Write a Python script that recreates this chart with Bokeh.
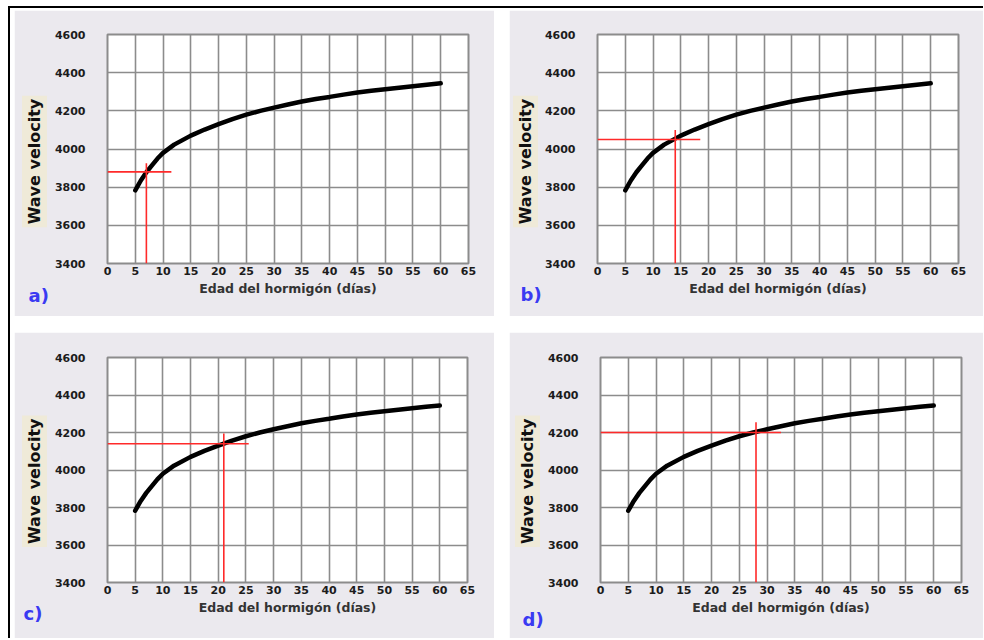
import math
from bokeh.plotting import figure
from bokeh.models import Range1d, Label
from bokeh.layouts import row, column
from bokeh.embed import file_html
from bokeh.resources import INLINE

# ---- data ----
age_days = [5, 6, 7, 8, 9, 10, 12, 15, 17.5, 20, 22.5, 25, 27.5, 30, 32.5, 35,
            37.5, 40, 42.5, 45, 47.5, 50, 52.5, 55, 57.5, 60]
velocity = [3783, 3835, 3878, 3914, 3950, 3980, 4023, 4070, 4102, 4130, 4157,
            4180, 4200, 4217, 4233, 4249, 4262, 4273, 4285, 4296, 4305, 4313,
            4321, 4329, 4337, 4344]
panel_letters = ["a)", "b)", "c)", "d)"]
read_age = [7, 14, 21, 28]
read_velocity = [3880, 4050, 4140, 4200]
hline_end = [11.5, 18.5, 25.5, 32.5]
vline_top = [3925, 4100, 4195, 4255]
x_ticks = list(range(0, 70, 5))
y_ticks = list(range(3400, 4800, 200))
x_label = "Edad del hormigón (días)"
y_label = "Wave velocity"

X0, X1 = 0, 65
Y0, Y1 = 3400, 4600

# panel geometry (px): width, height, border left, right, top, bottom,
# letter x, letter y, y-title centre x, y-title centre y (from panel top-left)
geom = [
    (480, 306, 93, 26, 24, 53, 14, 285, 20, 151),
    (474, 306, 88, 25, 24, 53, 11, 284, 16, 151),
    (480, 306, 93, 27, 25, 52, 9, 286, 20, 151),
    (474, 306, 91, 22, 21, 56, 13, 288, 18, 147),
]

FONT = "DejaVu Sans"
PANEL_BG = "#ebe9ee"
GRID = "#8c8c8c"
HAS_PADDING = "padding" in Label.properties()


def make_panel(i):
    w, h, bl, br, bt, bb, lx, ly, yx, yy = geom[i]
    p = figure(width=w, height=h, x_range=Range1d(X0, X1), y_range=Range1d(Y0, Y1),
               output_backend="svg", toolbar_location=None,
               min_border_left=bl, min_border_right=br, min_border_top=bt,
               min_border_bottom=bb)
    p.background_fill_color = "white"
    p.border_fill_color = PANEL_BG
    p.outline_line_color = GRID
    p.outline_line_width = 2

    p.xaxis.ticker = x_ticks
    p.yaxis.ticker = y_ticks
    p.xgrid.ticker = x_ticks
    p.ygrid.ticker = y_ticks
    p.grid.grid_line_color = GRID
    p.grid.grid_line_width = 1.6

    for ax in (p.xaxis[0], p.yaxis[0]):
        ax.axis_line_color = None
        ax.major_tick_line_color = None
        ax.minor_tick_line_color = None
        ax.major_tick_out = 0
        ax.major_tick_in = 0
        ax.major_label_text_font = FONT
        ax.major_label_text_font_style = "bold"
        ax.major_label_text_font_size = "11px"
        ax.major_label_text_color = "#1c1c1c"
        ax.axis_label_text_font = FONT
        ax.axis_label_text_font_style = "bold"

    xa = p.xaxis[0]
    xa.major_label_standoff = 3
    xa.axis_label = x_label
    xa.axis_label_text_font_size = "12.5px"
    xa.axis_label_text_color = "#333333"
    xa.axis_label_standoff = 3

    ya = p.yaxis[0]
    ya.major_label_standoff = 22

    p.line(age_days, velocity, line_color="black", line_width=4.5, line_cap="round")

    p.segment(x0=[X0], y0=[read_velocity[i]], x1=[hline_end[i]], y1=[read_velocity[i]],
              line_color="#ff2a2a", line_width=1.6)
    p.segment(x0=[read_age[i]], y0=[Y0], x1=[read_age[i]], y1=[vline_top[i]],
              line_color="#ff2a2a", line_width=1.6)

    fw = w - bl - br
    fh = h - bt - bb
    sx = (X1 - X0) / fw
    sy = (Y1 - Y0) / fh

    # y axis title with beige box (label in the left side panel, so not clipped)
    ykw = dict(x=X0 + (yx - bl) * sx, y=Y0 + ((h - bb) - yy) * sy,
               text=y_label, angle=math.pi / 2, text_align="center",
               text_baseline="middle", text_font=FONT, text_font_style="bold",
               text_font_size="16px", text_color="#111111",
               background_fill_color="#efead8")
    if HAS_PADDING:
        ykw["padding"] = 3
    p.add_layout(Label(**ykw), "left")

    # panel letter
    p.add_layout(Label(x=X0 + (lx - bl) * sx, y=Y0 - (ly - (h - bb)) * sy,
                       text=panel_letters[i], text_align="left",
                       text_baseline="middle", text_font=FONT, text_font_style="bold",
                       text_font_size="18px", text_color="#3a3af2"), "right")
    return p


panels = [make_panel(i) for i in range(4)]
r1 = row(panels[0], panels[1], spacing=15)
r2 = row(panels[2], panels[3], spacing=15)
lay = column(r1, r2, spacing=16,
             styles={"margin-left": "8px", "margin-top": "6px",
                     "border-left": "2px solid #000", "border-top": "2px solid #000",
                     "padding-left": "4px", "padding-top": "2px"})

open("out.html", "w").write(file_html(lay, INLINE))
